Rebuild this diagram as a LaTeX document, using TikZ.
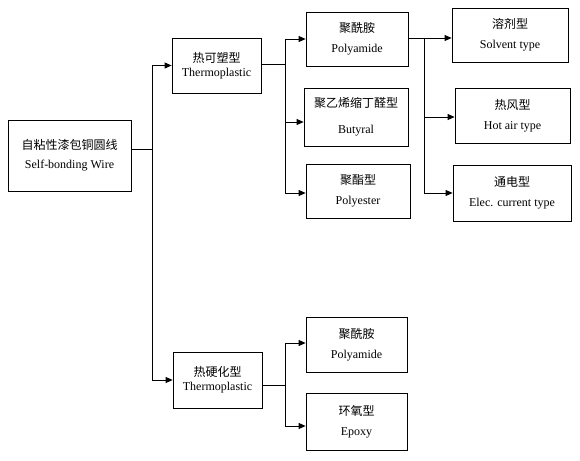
\documentclass[tikz,border=0pt]{standalone}
\usepackage{fontspec}
\setmainfont{Liberation Serif}
\newfontfamily\cjk{Noto Sans CJK SC}
\usetikzlibrary{arrows.meta,calc}
\begin{document}
\begin{tikzpicture}[x=1pt,y=-1pt,
  box/.style={draw,line width=0.8pt,inner sep=0pt,align=center,font=\fontsize{12}{20}\selectfont},
  conn/.style={line width=0.8pt},
  arr/.style={line width=0.8pt,-{Triangle[length=7pt,width=6pt]}}]
\fill[white] (0,0) rectangle (580,460);
\useasboundingbox (0,0) rectangle (580,460);
% nodes
\node[box,minimum width=123pt,minimum height=71pt] (root) at (69.5,155.5) {{\cjk 自粘性漆包铜圆线}\\[-1pt]Self-bonding Wire};
\node[box,minimum width=89pt,minimum height=55pt] (tp) at (216.5,65.5) {{\cjk 热可塑型}\\[-6pt]Thermoplastic};
\node[box,minimum width=89pt,minimum height=56pt] (ts) at (217.5,380) {{\cjk 热硬化型}\\[-6pt]Thermoplastic};
\node[box,minimum width=102pt,minimum height=54pt] (pa1) at (357,39) {{\cjk 聚酰胺}\\Polyamide};
\node[box,minimum width=104pt,minimum height=58pt] (but) at (356,117) {{\cjk 聚乙烯缩丁醛型}\\[6pt]Butyral};
\node[box,minimum width=104pt,minimum height=54pt] (pe) at (358,191) {{\cjk 聚酯型}\\Polyester};
\node[box,minimum width=116pt,minimum height=54pt] (sol) at (510,35) {{\cjk 溶剂型}\\Solvent type};
\node[box,minimum width=115pt,minimum height=55pt] (hot) at (512.5,115.5) {{\cjk 热风型}\\Hot air type};
\node[box,minimum width=118pt,minimum height=56pt] (elec) at (512,193) {{\cjk 通电型}\\Elec. current type};
\node[box,minimum width=101pt,minimum height=55pt] (pa2) at (356.5,344.5) {{\cjk 聚酰胺}\\Polyamide};
\node[box,minimum width=101pt,minimum height=57pt] (ep) at (356.5,421.5) {{\cjk 环氧型}\\Epoxy};
% junctions
\coordinate (j0) at (152,149);
\coordinate (j1) at (285,64);
\coordinate (j2) at (424,38);
\coordinate (j3) at (285,385);
% root
\draw[conn] (root.east |- j0) -- (j0);
\draw[conn] (j0 |- tp.west) -- (j0 |- ts.west);
\draw[arr] (j0 |- tp.west) -- (tp.west);
\draw[arr] (j0 |- ts.west) -- (ts.west);
% thermoplastic
\draw[conn] (tp.east |- j1) -- (j1);
\draw[conn] (j1 |- pa1.west) -- ($(j1 |- pe.west)+(0,2)$);
\draw[arr] (j1 |- pa1.west) -- (pa1.west);
\draw[arr] ($(j1 |- but.west)+(0,5)$) -- ($(but.west)+(0,5)$);
\draw[arr] ($(j1 |- pe.west)+(0,2)$) -- ($(pe.west)+(0,2)$);
% polyamide 1
\draw[arr] (pa1.east |- j2) -- (sol.west |- j2);
\draw[conn] (j2) -- (j2 |- elec.west);
\draw[arr] ($(j2 |- hot.west)+(0,1.5)$) -- ($(hot.west)+(0,1.5)$);
\draw[arr] (j2 |- elec.west) -- (elec.west);
% thermosetting
\draw[conn] (ts.east |- j3) -- (j3);
\draw[conn] ($(j3 |- pa2.west)+(0,-1.5)$) -- ($(j3 |- ep.west)+(0,4.5)$);
\draw[arr] ($(j3 |- pa2.west)+(0,-1.5)$) -- ($(pa2.west)+(0,-1.5)$);
\draw[arr] ($(j3 |- ep.west)+(0,4.5)$) -- ($(ep.west)+(0,4.5)$);
\end{tikzpicture}
\end{document}
